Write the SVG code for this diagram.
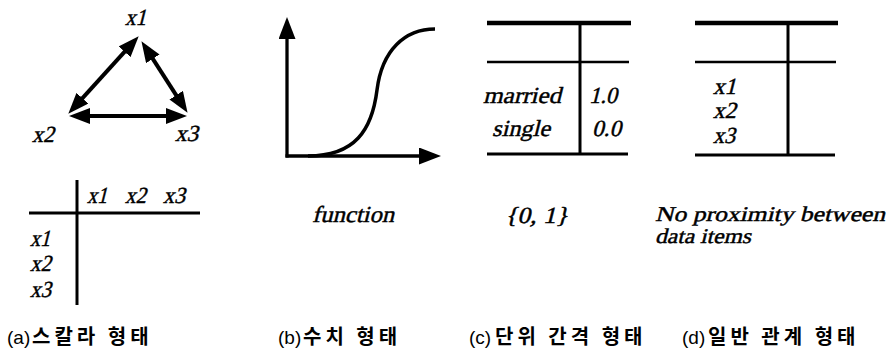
<svg xmlns="http://www.w3.org/2000/svg" width="892" height="349" viewBox="0 0 892 349">
<style>
.t{font-family:'Liberation Serif','Times New Roman',serif;font-style:normal;font-size:23px;fill:#000;stroke:#000;stroke-width:0.45px}
.cap{font-family:'Noto Sans CJK KR','Noto Sans',sans-serif;font-weight:700;font-size:20px;fill:#000}
.lt{font-family:'Liberation Sans','Noto Sans CJK KR',sans-serif;font-weight:400;font-size:19px}
.ko{letter-spacing:4px}
.ln{stroke:#000;fill:none;stroke-linecap:butt}
.arr{stroke:#000;stroke-width:4;fill:none;marker-start:url(#ah);marker-end:url(#ah)}
</style>
<defs>
<marker id="ah" viewBox="0 0 21 16" refX="10" refY="8" markerWidth="21" markerHeight="16" markerUnits="userSpaceOnUse" orient="auto-start-reverse">
<path d="M0,0 L21,8 L0,16 z" fill="#000"/>
</marker>
<marker id="ah1" viewBox="0 0 22 17" refX="10" refY="8.5" markerWidth="22" markerHeight="17" markerUnits="userSpaceOnUse" orient="auto">
<path d="M0,0 L22,8.5 L0,17 z" fill="#000"/>
</marker>
</defs>
<rect width="892" height="349" fill="#fff"/>

<!-- panel a: scalar graph -->
<g id="node-x1"><text class="t" transform="translate(125,25) skewX(-14)" textLength="21" lengthAdjust="spacingAndGlyphs">x1</text></g>
<g id="node-x2"><text class="t" transform="translate(32,142) skewX(-14)" textLength="22" lengthAdjust="spacingAndGlyphs">x2</text></g>
<g id="node-x3"><text class="t" transform="translate(175,141) skewX(-14)" textLength="23" lengthAdjust="spacingAndGlyphs">x3</text></g>
<g id="connectors">
<line class="arr" x1="131.3" y1="44.4" x2="75.7" y2="105.6"/>
<line class="arr" x1="147.4" y1="50.4" x2="181.6" y2="103.6"/>
<line class="arr" x1="80" y1="116" x2="176" y2="116"/>
</g>

<!-- panel a: matrix -->
<g id="matrix">
<line class="ln" stroke-width="3" x1="77" y1="180" x2="77" y2="305"/>
<line class="ln" stroke-width="3" x1="29" y1="213" x2="200" y2="213"/>
<text class="t" transform="translate(87,203) skewX(-14)" textLength="20" lengthAdjust="spacingAndGlyphs">x1</text>
<text class="t" transform="translate(125,203) skewX(-14)" textLength="21" lengthAdjust="spacingAndGlyphs">x2</text>
<text class="t" transform="translate(163,203) skewX(-14)" textLength="22" lengthAdjust="spacingAndGlyphs">x3</text>
<text class="t" transform="translate(30,246) skewX(-14)" textLength="20" lengthAdjust="spacingAndGlyphs">x1</text>
<text class="t" transform="translate(30,271) skewX(-14)" textLength="21" lengthAdjust="spacingAndGlyphs">x2</text>
<text class="t" transform="translate(30,297) skewX(-14)" textLength="21" lengthAdjust="spacingAndGlyphs">x3</text>
</g>

<!-- panel b: numeric -->
<g id="function-plot">
<line class="ln" stroke-width="3.3" x1="287" y1="157.5" x2="287" y2="29" marker-end="url(#ah1)"/>
<line class="ln" stroke-width="3.3" x1="285.5" y1="156" x2="429" y2="156" marker-end="url(#ah1)"/>
<path class="ln" stroke-width="3.5" d="M308,156 C355,156 372,130 377,90 C382,50 405,29 435,29"/>
<text class="t" transform="translate(312,222) skewX(-14)" textLength="82" lengthAdjust="spacingAndGlyphs">function</text>
</g>

<!-- panel c: unit interval -->
<g id="table-c">
<line class="ln" stroke-width="4.5" x1="487" y1="23" x2="631" y2="23"/>
<line class="ln" stroke-width="2.5" x1="487" y1="62" x2="629" y2="62"/>
<line class="ln" stroke-width="3" x1="487" y1="154" x2="628" y2="154"/>
<line class="ln" stroke-width="3" x1="580" y1="23" x2="580" y2="154"/>
<text class="t" transform="translate(483,103) skewX(-14)" textLength="78" lengthAdjust="spacingAndGlyphs">married</text>
<text class="t" transform="translate(492,136) skewX(-14)" textLength="58" lengthAdjust="spacingAndGlyphs">single</text>
<text class="t" transform="translate(589,103) skewX(-14)" textLength="28" lengthAdjust="spacingAndGlyphs">1.0</text>
<text class="t" transform="translate(592,136) skewX(-14)" textLength="29" lengthAdjust="spacingAndGlyphs">0.0</text>
<text class="t" transform="translate(505,223) skewX(-14)" textLength="63" lengthAdjust="spacingAndGlyphs">{0, 1}</text>
</g>

<!-- panel d: general relation -->
<g id="table-d">
<line class="ln" stroke-width="4.5" x1="695" y1="23" x2="838" y2="23"/>
<line class="ln" stroke-width="2.5" x1="695" y1="62" x2="836" y2="62"/>
<line class="ln" stroke-width="3" x1="695" y1="155" x2="835" y2="155"/>
<line class="ln" stroke-width="3" x1="788" y1="23" x2="788" y2="155"/>
<text class="t" transform="translate(713,94) skewX(-14)" textLength="23" lengthAdjust="spacingAndGlyphs">x1</text>
<text class="t" transform="translate(713,118) skewX(-14)" textLength="23" lengthAdjust="spacingAndGlyphs">x2</text>
<text class="t" transform="translate(713,143) skewX(-14)" textLength="22" lengthAdjust="spacingAndGlyphs">x3</text>
<text class="t" style="font-size:21px" transform="translate(655,221) skewX(-14)" textLength="230" lengthAdjust="spacingAndGlyphs">No proximity between</text>
<text class="t" style="font-size:21px" transform="translate(655,243) skewX(-14)" textLength="96" lengthAdjust="spacingAndGlyphs">data items</text>
</g>

<!-- captions -->
<g id="captions">
<text class="cap" x="7" y="344"><tspan class="lt">(a)</tspan><tspan class="ko" x="32">스칼라 형태</tspan></text>
<text class="cap" x="278" y="344"><tspan class="lt">(b)</tspan><tspan class="ko" x="303">수치 형태</tspan></text>
<text class="cap" x="469" y="344"><tspan class="lt">(c)</tspan><tspan class="ko" x="495">단위 간격 형태</tspan></text>
<text class="cap" x="682" y="344"><tspan class="lt">(d)</tspan><tspan class="ko" x="708">일반 관계 형태</tspan></text>
</g>
</svg>
